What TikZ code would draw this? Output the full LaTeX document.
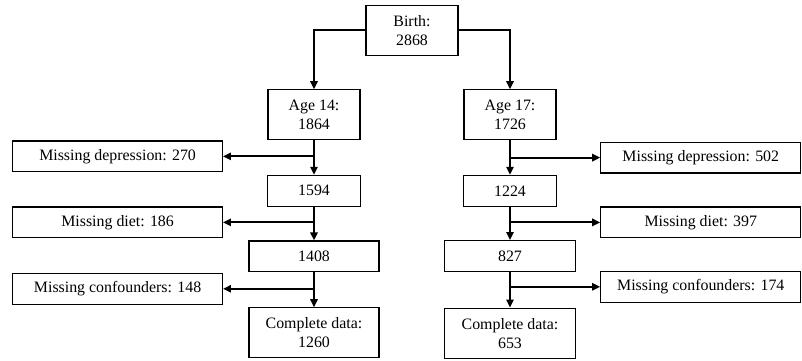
\documentclass[tikz,border=0pt]{standalone}
\usepackage{fontspec}
\setmainfont{Liberation Serif}
\usetikzlibrary{arrows.meta}

\begin{document}
\begin{tikzpicture}[
    font=\fontsize{11.3}{13.7}\selectfont,
    box/.style={draw,line width=0.8pt,align=center,inner sep=0pt,minimum height=0.77cm},
    tall/.style={minimum height=1.25cm},
    flow/.style={line width=1.4pt,-{Triangle[length=2mm,width=1.8mm]}}]
            \useasboundingbox (0,0) rectangle (20.05,-9);
            % top
            \node[box,tall,minimum width=2.3cm] (birth) at (10.3,-0.76) {Birth:\\2868};
            \node[box,tall,minimum width=2.3cm] (a14) at (7.85,-2.87) {Age 14:\\1864};
            \node[box,tall,minimum width=2.3cm] (a17) at (12.75,-2.87) {Age 17:\\1726};
            % left column
            \node[box,minimum width=5.24cm] (lmd) at (2.94,-3.91) {Missing depression: 270};
            \node[box,minimum width=2.31cm] (l1594) at (7.85,-4.77) {1594};
            \node[box,minimum width=5.24cm] (ldiet) at (2.94,-5.56) {Missing diet: 186};
            \node[box,minimum width=3.25cm] (l1408) at (7.85,-6.41) {1408};
            \node[box,minimum width=5.24cm] (lconf) at (2.94,-7.22) {Missing confounders: 148};
            \node[box,tall,minimum width=3.25cm] (lend) at (7.85,-8.32) {Complete data:\\1260};
            % right column
            \node[box,minimum width=5.0cm] (rmd) at (17.52,-3.94) {Missing depression: 502};
            \node[box,minimum width=2.31cm] (r1224) at (12.75,-4.77) {1224};
            \node[box,minimum width=5.0cm] (rdiet) at (17.52,-5.56) {Missing diet: 397};
            \node[box,minimum width=3.28cm] (r827) at (12.75,-6.40) {827};
            \node[box,minimum width=5.0cm] (rconf) at (17.52,-7.17) {Missing confounders: 174};
            \node[box,tall,minimum width=3.28cm] (rend) at (12.75,-8.33) {Complete data:\\653};
            % branch points
            \coordinate (lb1) at (a14.south |- lmd.east);
            \coordinate (lb2) at (a14.south |- ldiet.east);
            \coordinate (lb3) at (a14.south |- lconf.east);
            \coordinate (rb1) at (a17.south |- rmd.west);
            \coordinate (rb2) at (a17.south |- rdiet.west);
            \coordinate (rb3) at (a17.south |- rconf.west);
            % arrows
            \draw[flow] (birth.west) -| (a14.north);
            \draw[flow] (birth.east) -| (a17.north);
            \draw[flow] (a14.south) -- (l1594.north);
            \draw[flow] (l1594.south) -- (l1408.north);
            \draw[flow] (l1408.south) -- (lend.north);
            \draw[flow] (a17.south) -- (r1224.north);
            \draw[flow] (r1224.south) -- (r827.north);
            \draw[flow] (r827.south) -- (rend.north);
            \draw[flow] (lb1) -- (lmd.east);
            \draw[flow] (lb2) -- (ldiet.east);
            \draw[flow] (lb3) -- (lconf.east);
            \draw[flow] (rb1) -- (rmd.west);
            \draw[flow] (rb2) -- (rdiet.west);
            \draw[flow] (rb3) -- (rconf.west);
        \end{tikzpicture}
\end{document}
